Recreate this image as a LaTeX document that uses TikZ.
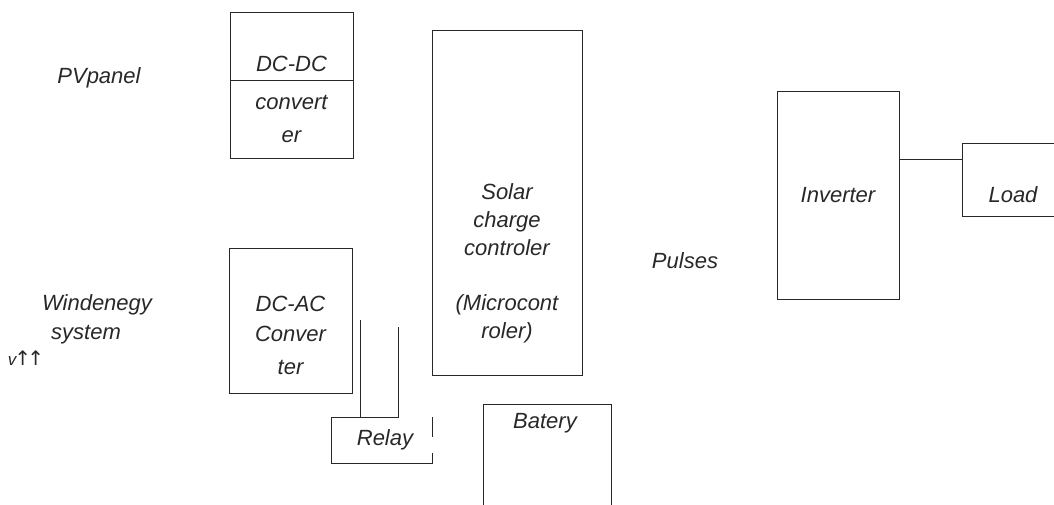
\documentclass[tikz,border=0pt]{standalone}
\usepackage{fontspec}
\setmainfont{Liberation Sans}
\newfontfamily\arrowfont{DejaVu Sans}
\usepackage{tikz}
\usetikzlibrary{positioning, calc}
\definecolor{ink}{RGB}{40,40,40}
\tikzset{
  blk/.style  = {draw=ink, line width=1pt, inner sep=0pt},
  lbl/.style  = {font=\itshape\fontsize{22}{28}\selectfont, align=center,
                 text=ink, inner sep=0pt},
  wire/.style = {draw=ink, line width=1pt}
}

\begin{document}
\begin{tikzpicture}[x=1pt, y=-1pt]
\useasboundingbox (0,0) rectangle (1054,504);

% --- LEFT SOURCES ---
\node[lbl] (pv) at (99,78) {PVpanel};
\node[lbl] (wind1) at (97,305) {Windenegy};
\node[lbl] (wind2) at (86,335) {system};
\node[lbl, font=\itshape\fontsize{17}{20}\selectfont] (vsym) at (26,358)
  {v{\arrowfont\upshape\fontsize{20}{24}\selectfont\kern-2pt↑\kern-4pt↑}};

% --- DC-DC CONVERTER ---
\node[blk, minimum width=123pt, minimum height=146pt] (dcdc) at (291.5,85) {};
\coordinate (split) at (0,80);
\draw[wire] (dcdc.west |- split) -- (dcdc.east |- split);
\node[lbl] (dcdc1) at (291.5,64) {DC-DC};
\node[lbl] (dcdc2) at (291.5,102) {convert};
\node[lbl] (dcdc3) at (291.5,137) {er};

% --- DC-AC CONVERTER ---
\node[blk, minimum width=123pt, minimum height=145pt] (dcac) at (290.5,320.5) {};
\node[lbl] (dcac1) at (290.5,304) {DC-AC};
\node[lbl] (dcac2) at (290.5,334) {Conver};
\node[lbl] (dcac3) at (290.5,367) {ter};

% --- RELAY ---
\node[lbl] (relay) at (385,440) {Relay};
\draw[wire] (360,320) -- (360,417);
\draw[wire] (398,327) -- (398,417) -- (331,417) -- (331,463) -- (432,463) -- (432,453);
\draw[wire] (432,417) -- (432,437);

% --- SOLAR CHARGE CONTROLLER ---
\node[blk, minimum width=150pt, minimum height=345pt] (scc) at (507,202.5) {};
\node[lbl] (scctext) at (507,263)
  {Solar\\charge\\controler\\[27pt](Microcont\\roler)};

% --- BATTERY ---
\node[blk, minimum width=128pt, minimum height=112pt] (bat) at (547,460) {};
\node[lbl] (battext) at (545,423) {Batery};

% --- PULSES ---
\node[lbl] (pulses) at (685,261) {Pulses};

% --- INVERTER AND LOAD ---
\node[blk, minimum width=122pt, minimum height=208pt] (inv) at (838,195) {};
\node[lbl] (invtext) at (838,195) {Inverter};
\node[blk, minimum width=98pt, minimum height=73pt] (load) at (1011,179.5) {};
\node[lbl] (loadtext) at (1013,195) {Load};
\coordinate (lnk) at (930,159);
\draw[wire] (inv.east |- lnk) -- (load.west |- lnk);
\end{tikzpicture}
\end{document}
